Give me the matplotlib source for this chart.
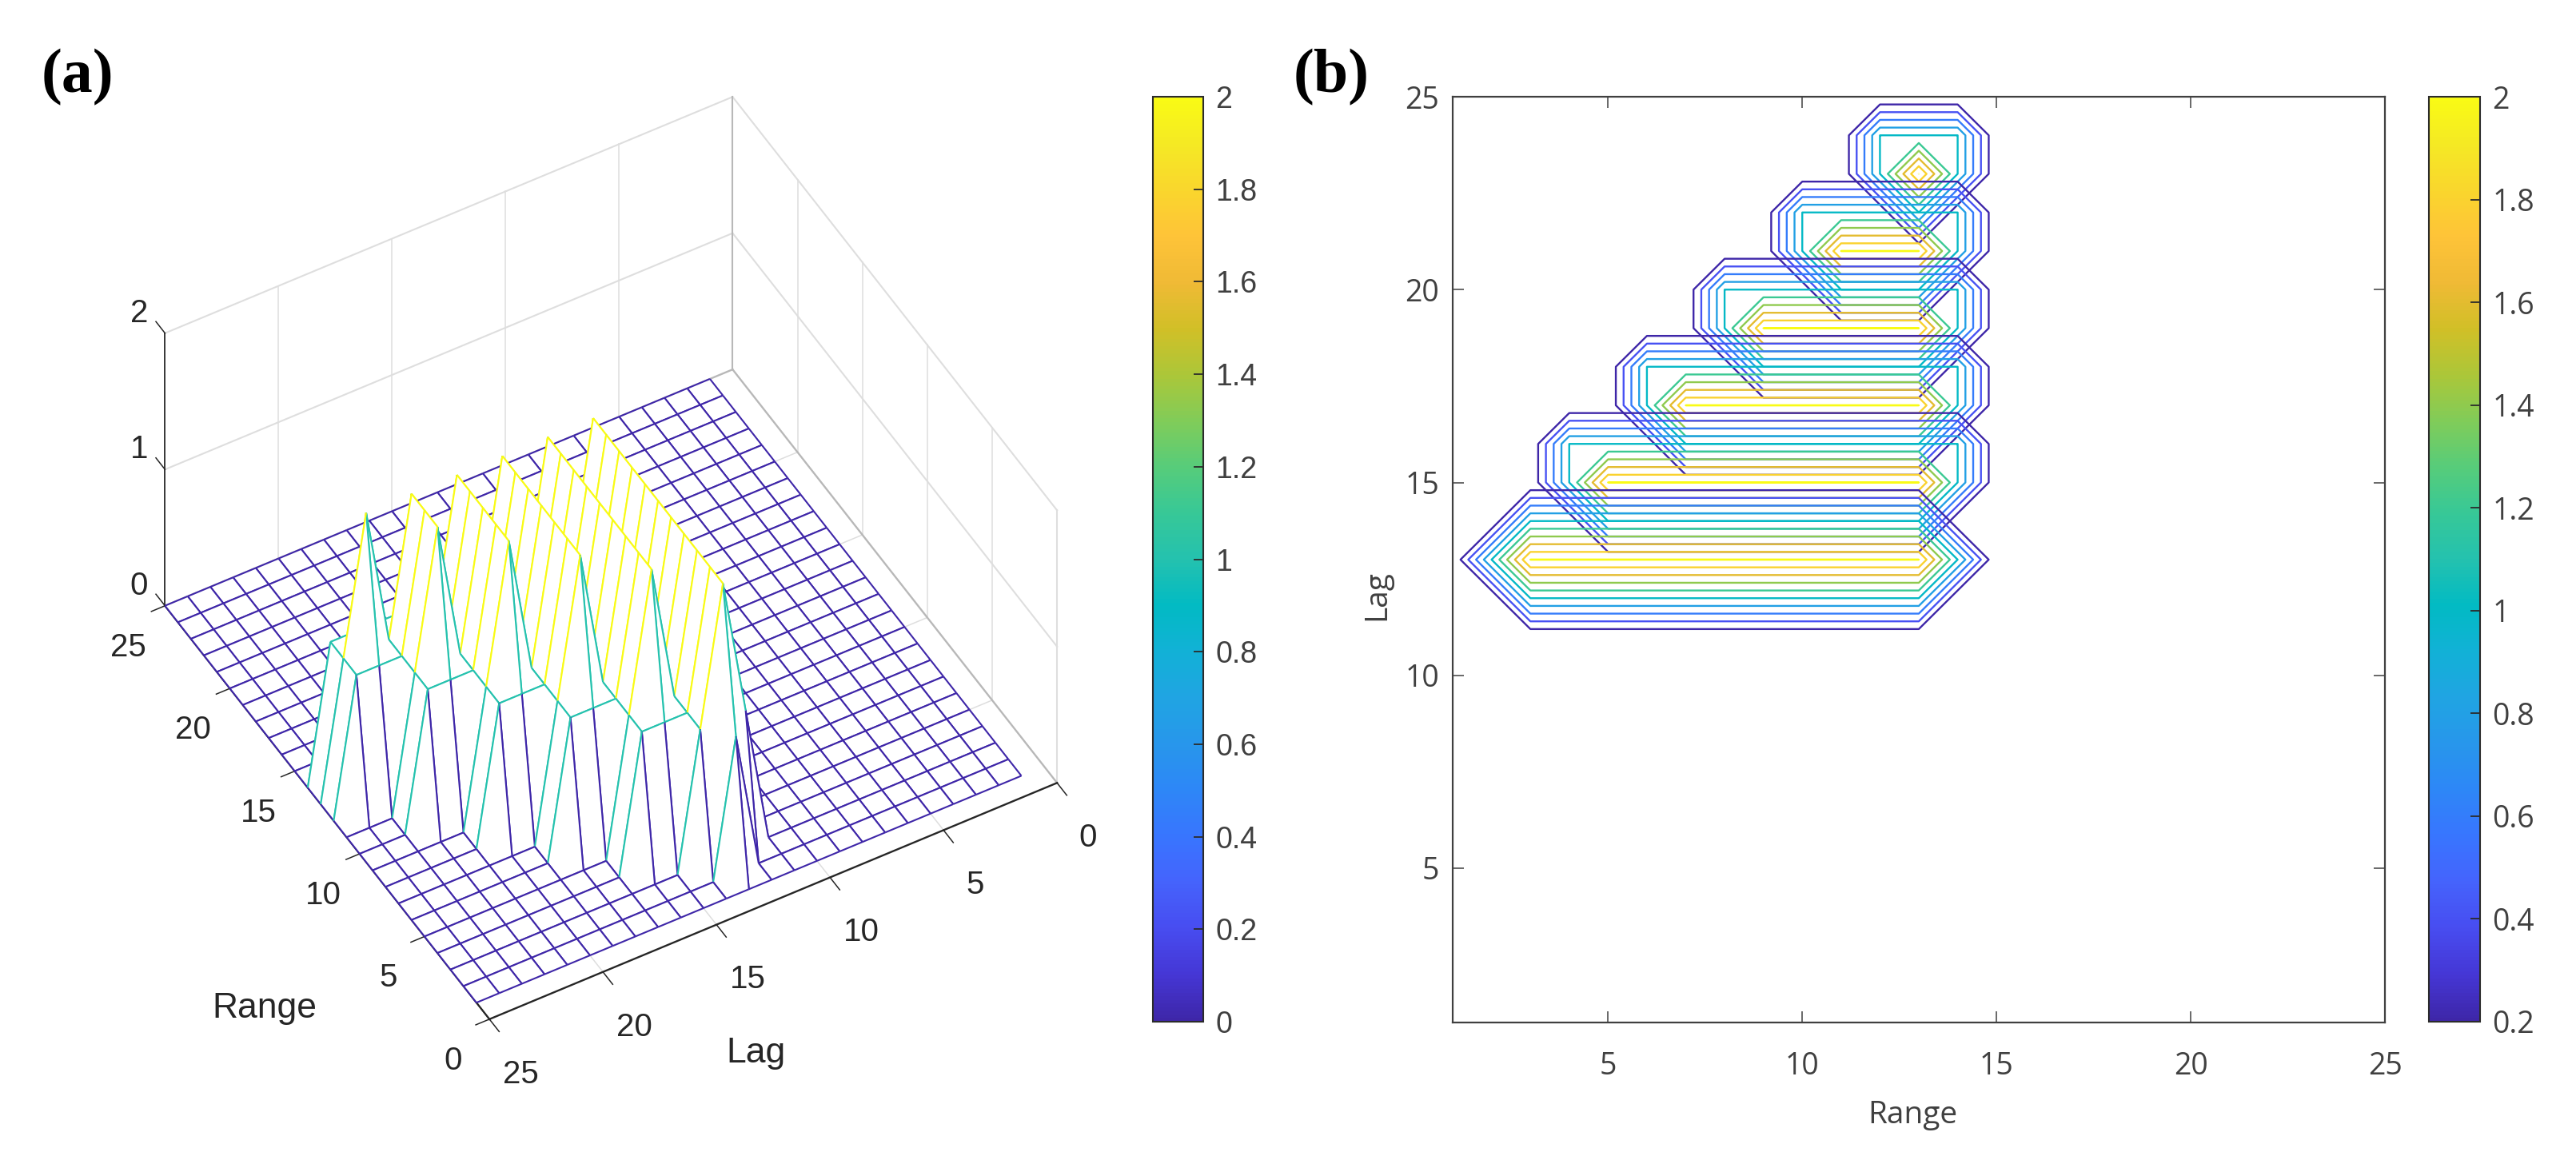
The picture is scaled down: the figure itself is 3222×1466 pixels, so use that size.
import numpy as np
import matplotlib
matplotlib.use("Agg")
import matplotlib.pyplot as plt
from matplotlib.colors import LinearSegmentedColormap, Normalize
from matplotlib.cm import ScalarMappable
from mpl_toolkits.mplot3d import proj3d
from mpl_toolkits.mplot3d.art3d import Poly3DCollection, Line3DCollection

W, H = 3222, 1466
DPI = 100

# ---- data ----
grid_values = np.arange(1, 26)
peak_lags = [13, 15, 17, 19, 21, 23]
peak_range_start = [3, 5, 7, 9, 11, 13]
peak_range_end = [13, 13, 13, 13, 13, 13]
band_above_start = [3, 4, 6, 8, 10, 12]
band_above_end = [13, 14, 14, 14, 14, 14]
contour_levels = [0.2, 0.4, 0.6, 0.8, 0.9999, 1.2, 1.4, 1.6, 1.8, 1.999]
axis_ticks = [5, 10, 15, 20, 25]
ticks_3d = [0, 5, 10, 15, 20, 25]
z_ticks = [0, 1, 2]
cbar_a_ticks = [0, 0.2, 0.4, 0.6, 0.8, 1, 1.2, 1.4, 1.6, 1.8, 2]
cbar_b_ticks = [0.2, 0.4, 0.6, 0.8, 1, 1.2, 1.4, 1.6, 1.8, 2]

parula = LinearSegmentedColormap.from_list("parula", [
    (0.2422, 0.1504, 0.6603), (0.2706, 0.2147, 0.8364), (0.2813, 0.3006, 0.9414),
    (0.2699, 0.3892, 0.9906), (0.2206, 0.4603, 0.9973), (0.1786, 0.5289, 0.9682),
    (0.1540, 0.5902, 0.9218), (0.1248, 0.6459, 0.8883), (0.0689, 0.6948, 0.8394),
    (0.0067, 0.7312, 0.7660), (0.1408, 0.7584, 0.6842), (0.2161, 0.7843, 0.5923),
    (0.3406, 0.8008, 0.4789), (0.5044, 0.7993, 0.3480), (0.6720, 0.7793, 0.2227),
    (0.8203, 0.7498, 0.1535), (0.9393, 0.7288, 0.2100), (0.9970, 0.7659, 0.2199),
    (0.9786, 0.8386, 0.1766), (0.9597, 0.9135, 0.1423), (0.9769, 0.9839, 0.0805)], N=256)


def lens_surface(lag, r0, r1, b0, b1):
    """One plateau on the 25x25 grid (row = lag, column = range)."""
    z = np.zeros((25, 25))
    idx = lambda v: v - 1
    z[idx(lag + 1), idx(b0):idx(b1) + 1] = 1
    z[idx(lag - 1), idx(r0):idx(r1) + 1] = 1
    z[idx(lag), idx(r0) - 1] = 1
    z[idx(lag), idx(r1) + 1] = 1
    z[idx(lag), idx(r0):idx(r1) + 1] = 2
    return z


lenses = [lens_surface(*a) for a in zip(peak_lags, peak_range_start, peak_range_end,
                                        band_above_start, band_above_end)]
Z = np.max(lenses, axis=0)

plt.rcParams['font.family'] = ['Open Sans', 'DejaVu Sans']
fig = plt.figure(figsize=(W / DPI, H / DPI), dpi=DPI, facecolor='white')


def rect(x0, y0, x1, y1):
    return [x0 / W, 1 - y1 / H, (x1 - x0) / W, (y1 - y0) / H]


def ftext(x, y, s, **kw):
    fig.text(x / W, 1 - y / H, s, ha='center', va='center', **kw)


# ---- (a) 3D mesh ----
side = 1400
ax3 = fig.add_axes(rect(100, 0, 100 + side, side), projection='3d', computed_zorder=False)
ax3.set_proj_type('ortho')
ax3.set_box_aspect((820, 820, 499))
ax3.view_init(elev=46.75, azim=150.25)
ax3.set_xlim(0, 25, view_margin=0)
ax3.set_ylim(0, 25, view_margin=0)
ax3.set_zlim(0, 2, view_margin=0)
ax3.set_xticks([])
ax3.set_yticks([])
ax3.set_zticks([])
ax3.set_axis_off()
ax3.patch.set_alpha(0)


def project(x, y, z):
    ax3.apply_aspect()
    xs, ys, _ = proj3d.proj_transform(x, y, z, ax3.get_proj())
    return ax3.transData.transform((xs, ys))


targets = {(0, 25): (613, H - 1280), (25, 0): (916, H - 464),
           (25, 25): (205, H - 760), (0, 0): (1323, H - 970)}
cur = {k: project(k[0], k[1], 0) for k in targets}
scale = np.linalg.norm(np.subtract(targets[(25, 25)], targets[(0, 0)])) / \
    np.linalg.norm(cur[(25, 25)] - cur[(0, 0)])
new_side = side * scale
ax3.set_position(rect(100, 0, 100 + new_side, new_side))
cur = {k: project(k[0], k[1], 0) for k in targets}
shift = np.mean([np.subtract(targets[k], cur[k]) for k in targets], axis=0)
p = ax3.get_position()
ax3.set_position([p.x0 + shift[0] / W, p.y0 + shift[1] / H, p.width, p.height])

wall = (0.87, 0.87, 0.87)
edge = (0.72, 0.72, 0.72)
LW = 1.1
for v in [5, 10, 15, 20]:
    ax3.plot([v, v], [0, 0], [0, 2], color=wall, lw=LW, zorder=1)      # wall lag = 0
    ax3.plot([25, 25], [v, v], [0, 2], color=wall, lw=LW, zorder=1)    # wall range = 25
    ax3.plot([v, v], [0, 25], [0, 0], color=wall, lw=LW, zorder=1)     # floor
    ax3.plot([0, 25], [v, v], [0, 0], color=wall, lw=LW, zorder=1)
for zv in [1, 2]:
    ax3.plot([25, 25], [0, 25], [zv, zv], color=wall, lw=LW + .4, zorder=1)
    ax3.plot([0, 25], [0, 0], [zv, zv], color=wall, lw=LW + .4, zorder=1)
ax3.plot([25, 25], [0, 0], [0, 2], color=edge, lw=LW + .4, zorder=1)
ax3.plot([0, 0], [0, 0], [0, 2], color=wall, lw=LW + .4, zorder=1)
ax3.plot([0, 25], [0, 0], [0, 0], color=edge, lw=LW + .6, zorder=1)
ax3.plot([25, 25], [0, 25], [0, 0], color=edge, lw=LW + .6, zorder=1)

dark = (0.15, 0.15, 0.15)
ax3.plot([25, 25], [25, 25], [0, 2], color=dark, lw=LW + .2, zorder=2)
ax3.plot([0, 25], [25, 25], [0, 0], color=dark, lw=LW + .6, zorder=2)
ax3.plot([0, 0], [0, 25], [0, 0], color=dark, lw=LW + .6, zorder=2)
for v in ticks_3d:
    ax3.plot([v, v], [25, 25.6], [0, 0], color=dark, lw=LW, zorder=2)
    ax3.plot([0, -0.75], [v, v], [0, 0], color=dark, lw=LW, zorder=2)
for zv in z_ticks:
    ax3.plot([25, 25.7], [25, 25], [zv, zv], color=dark, lw=LW, zorder=2)

norm_a = Normalize(0, 2)
order = 10
n = len(grid_values)
for i in range(n - 2, -1, -1):
    for j in range(n - 1):
        x0, x1 = grid_values[i], grid_values[i + 1]
        y0, y1 = grid_values[j], grid_values[j + 1]
        a, b, c, d = (x0, y0, Z[j, i]), (x1, y0, Z[j, i + 1]), (x1, y1, Z[j + 1, i + 1]), (x0, y1, Z[j + 1, i])
        ax3.add_collection3d(Poly3DCollection([[a, b, c, d]], facecolors='white', edgecolors='none',
                                              linewidths=0, zorder=order), autolim=False)
        segs = [[a, b], [b, c], [d, c], [a, d]]
        cols = [parula(norm_a(Z[j, i])), parula(norm_a(Z[j, i + 1])),
                parula(norm_a(Z[j + 1, i])), parula(norm_a(Z[j, i]))]
        ax3.add_collection3d(Line3DCollection(segs, colors=cols, linewidths=1.5, zorder=order + 1),
                             autolim=False)
        order += 2

tick_kw = dict(family=['Liberation Sans'], fontsize=29, color=(0.15, 0.15, 0.15),
               ha='center', va='center')


def label3d(x, y, z, s):
    px, py = project(x, y, z)
    fig.text(px / W, py / H, s, **tick_kw)


for v in ticks_3d:
    label3d(-3.1, v + 0.4, 0, str(v))
    label3d(v - 1.2, 27.3, 0, str(v))
for zv in z_ticks:
    label3d(26.4, 25.35, zv, str(zv))
ftext(331, 1262, 'Range', family=['Liberation Sans'], fontsize=32, color=(0.15, 0.15, 0.15))
ftext(945, 1317, 'Lag', family=['Liberation Sans'], fontsize=32, color=(0.15, 0.15, 0.15))

ftext(97, 97, '(a)', family=['Liberation Serif'], fontsize=56, fontweight='bold', color='black')
ftext(1665, 97, '(b)', family=['Liberation Serif'], fontsize=56, fontweight='bold', color='black')

ax_col = (0.25, 0.25, 0.25)
bar_col = (0.17, 0.17, 0.17)


def style_cbar(cax, ticks, **label_kw):
    cax.set_yticks(ticks)
    cax.set_yticklabels([f'{t:g}' for t in ticks], **label_kw)
    cax.minorticks_off()
    cax.tick_params(axis='y', direction='in', length=9, width=1.3, color=bar_col,
                    labelcolor=ax_col, pad=11, right=True, left=False)
    for s in cax.spines.values():
        s.set_color(bar_col)
        s.set_linewidth(1.5)


cax_a = fig.add_axes(rect(1442, 121, 1505, 1278))
cb_a = fig.colorbar(ScalarMappable(norm=norm_a, cmap=parula), cax=cax_a)
cb_a.outline.set_edgecolor(bar_col)
cb_a.outline.set_linewidth(1.5)
style_cbar(cax_a, cbar_a_ticks, family=['Liberation Sans'], fontsize=27)

# ---- (b) contour ----
ax2 = fig.add_axes(rect(1817, 121, 2983, 1279))
norm_b = Normalize(0.2, 2)
for z in lenses[::-1]:
    ax2.contour(grid_values, grid_values, z, levels=contour_levels, cmap=parula, norm=norm_b,
                linewidths=1.7)
ax2.set_xlim(1, 25)
ax2.set_ylim(1, 25)
ax2.set_xticks(axis_ticks)
ax2.set_yticks(axis_ticks)
ax2.tick_params(direction='in', top=True, right=True, length=10, width=1.1, color=ax_col,
                labelsize=27, labelcolor=ax_col)
ax2.tick_params(axis='x', pad=26)
ax2.tick_params(axis='y', pad=12)
for s in ax2.spines.values():
    s.set_color(ax_col)
    s.set_linewidth(1.6)
ftext(2392, 1395, 'Range', fontsize=28, color=ax_col)
fig.text(1722 / W, 1 - 745 / H, 'Lag', rotation=90, ha='center', va='center', fontsize=28, color=ax_col)

cax_b = fig.add_axes(rect(3038, 121, 3102, 1278))
cb_b = fig.colorbar(ScalarMappable(norm=norm_b, cmap=parula), cax=cax_b)
cb_b.outline.set_edgecolor(bar_col)
cb_b.outline.set_linewidth(1.5)
style_cbar(cax_b, cbar_b_ticks, fontsize=27)

fig.savefig('out.png', dpi=DPI)
